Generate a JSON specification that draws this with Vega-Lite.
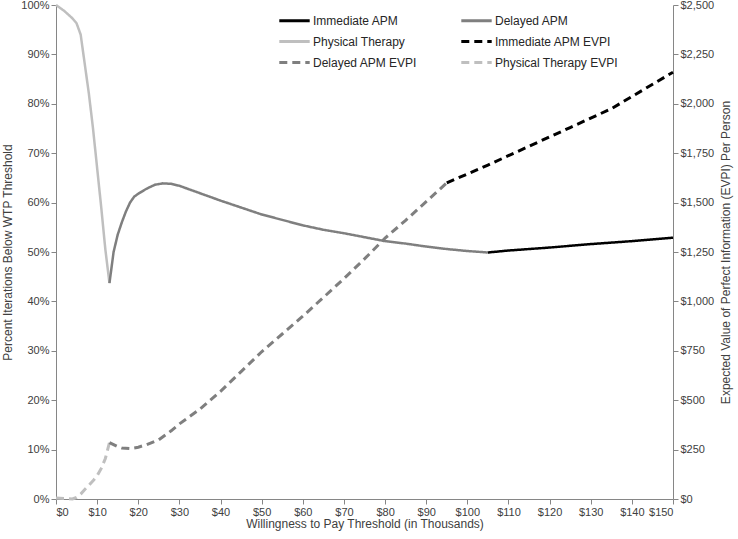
{
  "$schema": "https://vega.github.io/schema/vega-lite/v6.json",
  "width": 617,
  "height": 494,
  "autosize": "none",
  "padding": {"left": 56, "top": 5, "right": 65, "bottom": 40},
  "background": "white",
  "config": {
    "font": "Liberation Sans",
    "view": {"stroke": null},
    "axis": {
      "grid": false,
      "domainColor": "#868686",
      "tickColor": "#868686",
      "labelColor": "#404040",
      "titleColor": "#404040",
      "labelFontSize": 11,
      "titleFontSize": 12,
      "titleFontWeight": "normal",
      "labelFont": "Liberation Sans",
      "titleFont": "Liberation Sans",
      "tickSize": 5
    },
    "legend": {"labelFont": "Liberation Sans", "labelFontSize": 12, "labelColor": "#262626"}
  },
  "datasets": {
    "pct": [
      {"x": 0, "series": "Physical Therapy", "p": 1.0},
      {"x": 2, "series": "Physical Therapy", "p": 0.988},
      {"x": 4, "series": "Physical Therapy", "p": 0.973},
      {"x": 5, "series": "Physical Therapy", "p": 0.963},
      {"x": 6, "series": "Physical Therapy", "p": 0.94},
      {"x": 7, "series": "Physical Therapy", "p": 0.88},
      {"x": 8, "series": "Physical Therapy", "p": 0.82},
      {"x": 9, "series": "Physical Therapy", "p": 0.75},
      {"x": 10, "series": "Physical Therapy", "p": 0.67},
      {"x": 11, "series": "Physical Therapy", "p": 0.59},
      {"x": 12, "series": "Physical Therapy", "p": 0.505},
      {"x": 13, "series": "Physical Therapy", "p": 0.437},
      {"x": 13, "series": "Delayed APM", "p": 0.437},
      {"x": 14, "series": "Delayed APM", "p": 0.50},
      {"x": 15, "series": "Delayed APM", "p": 0.535},
      {"x": 16, "series": "Delayed APM", "p": 0.56},
      {"x": 17, "series": "Delayed APM", "p": 0.582},
      {"x": 18, "series": "Delayed APM", "p": 0.60},
      {"x": 19, "series": "Delayed APM", "p": 0.612},
      {"x": 20, "series": "Delayed APM", "p": 0.618},
      {"x": 22, "series": "Delayed APM", "p": 0.628},
      {"x": 24, "series": "Delayed APM", "p": 0.636},
      {"x": 26, "series": "Delayed APM", "p": 0.639},
      {"x": 28, "series": "Delayed APM", "p": 0.638},
      {"x": 30, "series": "Delayed APM", "p": 0.634},
      {"x": 35, "series": "Delayed APM", "p": 0.619},
      {"x": 40, "series": "Delayed APM", "p": 0.604},
      {"x": 45, "series": "Delayed APM", "p": 0.59},
      {"x": 50, "series": "Delayed APM", "p": 0.576},
      {"x": 55, "series": "Delayed APM", "p": 0.565},
      {"x": 60, "series": "Delayed APM", "p": 0.554},
      {"x": 65, "series": "Delayed APM", "p": 0.545},
      {"x": 70, "series": "Delayed APM", "p": 0.538},
      {"x": 75, "series": "Delayed APM", "p": 0.53},
      {"x": 80, "series": "Delayed APM", "p": 0.522},
      {"x": 85, "series": "Delayed APM", "p": 0.517},
      {"x": 90, "series": "Delayed APM", "p": 0.511},
      {"x": 95, "series": "Delayed APM", "p": 0.506},
      {"x": 100, "series": "Delayed APM", "p": 0.502},
      {"x": 105, "series": "Delayed APM", "p": 0.499},
      {"x": 105, "series": "Immediate APM", "p": 0.499},
      {"x": 110, "series": "Immediate APM", "p": 0.503},
      {"x": 120, "series": "Immediate APM", "p": 0.509},
      {"x": 130, "series": "Immediate APM", "p": 0.516},
      {"x": 140, "series": "Immediate APM", "p": 0.522},
      {"x": 150, "series": "Immediate APM", "p": 0.529}
    ],
    "evpi": [
      {"x": 0, "series": "Physical Therapy EVPI", "v": 5},
      {"x": 2, "series": "Physical Therapy EVPI", "v": 3},
      {"x": 4, "series": "Physical Therapy EVPI", "v": 0},
      {"x": 5, "series": "Physical Therapy EVPI", "v": 8},
      {"x": 6, "series": "Physical Therapy EVPI", "v": 25},
      {"x": 7, "series": "Physical Therapy EVPI", "v": 48},
      {"x": 8, "series": "Physical Therapy EVPI", "v": 70},
      {"x": 9, "series": "Physical Therapy EVPI", "v": 92},
      {"x": 10, "series": "Physical Therapy EVPI", "v": 118},
      {"x": 11, "series": "Physical Therapy EVPI", "v": 155},
      {"x": 12, "series": "Physical Therapy EVPI", "v": 205},
      {"x": 13, "series": "Physical Therapy EVPI", "v": 285},
      {"x": 13, "series": "Delayed APM EVPI", "v": 285},
      {"x": 14, "series": "Delayed APM EVPI", "v": 275},
      {"x": 15, "series": "Delayed APM EVPI", "v": 265},
      {"x": 16, "series": "Delayed APM EVPI", "v": 258},
      {"x": 18, "series": "Delayed APM EVPI", "v": 255},
      {"x": 20, "series": "Delayed APM EVPI", "v": 262},
      {"x": 22, "series": "Delayed APM EVPI", "v": 275},
      {"x": 25, "series": "Delayed APM EVPI", "v": 300},
      {"x": 28, "series": "Delayed APM EVPI", "v": 345},
      {"x": 30, "series": "Delayed APM EVPI", "v": 380},
      {"x": 35, "series": "Delayed APM EVPI", "v": 455},
      {"x": 40, "series": "Delayed APM EVPI", "v": 545},
      {"x": 45, "series": "Delayed APM EVPI", "v": 645},
      {"x": 50, "series": "Delayed APM EVPI", "v": 745},
      {"x": 55, "series": "Delayed APM EVPI", "v": 835},
      {"x": 60, "series": "Delayed APM EVPI", "v": 925},
      {"x": 65, "series": "Delayed APM EVPI", "v": 1020},
      {"x": 70, "series": "Delayed APM EVPI", "v": 1115},
      {"x": 75, "series": "Delayed APM EVPI", "v": 1215},
      {"x": 80, "series": "Delayed APM EVPI", "v": 1320},
      {"x": 85, "series": "Delayed APM EVPI", "v": 1410},
      {"x": 90, "series": "Delayed APM EVPI", "v": 1505},
      {"x": 95, "series": "Delayed APM EVPI", "v": 1600},
      {"x": 95, "series": "Immediate APM EVPI", "v": 1600},
      {"x": 105, "series": "Immediate APM EVPI", "v": 1690},
      {"x": 115, "series": "Immediate APM EVPI", "v": 1785},
      {"x": 125, "series": "Immediate APM EVPI", "v": 1880},
      {"x": 135, "series": "Immediate APM EVPI", "v": 1975},
      {"x": 150, "series": "Immediate APM EVPI", "v": 2160}
    ]
  },
  "encoding": {
    "x": {
      "field": "x",
      "type": "quantitative",
      "scale": {"domain": [0, 150], "nice": false},
      "axis": {
        "values": [0, 10, 20, 30, 40, 50, 60, 70, 80, 90, 100, 110, 120, 130, 140, 150],
        "labelExpr": "'$' + datum.value",
        "title": "Willingness to Pay Threshold (in Thousands)",
        "titlePadding": 1
      }
    },
    "color": {
      "field": "series",
      "type": "nominal",
      "scale": {
        "domain": ["Immediate APM", "Delayed APM", "Physical Therapy", "Immediate APM EVPI", "Delayed APM EVPI", "Physical Therapy EVPI"],
        "range": ["#000000", "#7f7f7f", "#bfbfbf", "#000000", "#7f7f7f", "#bfbfbf"]
      },
      "legend": {
        "title": null,
        "orient": "none",
        "direction": "horizontal",
        "legendX": 229,
        "legendY": 6,
        "columns": 2,
        "columnPadding": 37,
        "rowPadding": 5,
        "symbolType": "M-1.9,0H1.9",
        "symbolStrokeWidth": 3,
        "symbolSize": 256,
        "labelOffset": 9
      }
    },
    "strokeDash": {
      "field": "series",
      "type": "nominal",
      "scale": {
        "domain": ["Immediate APM", "Delayed APM", "Physical Therapy", "Immediate APM EVPI", "Delayed APM EVPI", "Physical Therapy EVPI"],
        "range": [[1, 0], [1, 0], [1, 0], [8, 5], [8, 5], [8, 5]]
      },
      "legend": {
        "title": null,
        "orient": "none",
        "direction": "horizontal",
        "legendX": 229,
        "legendY": 6,
        "columns": 2,
        "columnPadding": 37,
        "rowPadding": 5,
        "symbolType": "M-1.9,0H1.9",
        "symbolStrokeWidth": 3,
        "symbolSize": 256,
        "labelOffset": 9
      }
    }
  },
  "layer": [
    {
      "data": {"name": "pct"},
      "mark": {"type": "line", "strokeWidth": 2.5},
      "encoding": {
        "y": {
          "field": "p",
          "type": "quantitative",
          "scale": {"domain": [0, 1], "nice": false},
          "axis": {
            "format": ".0%",
            "values": [0, 0.1, 0.2, 0.3, 0.4, 0.5, 0.6, 0.7, 0.8, 0.9, 1],
            "title": "Percent Iterations Below WTP Threshold",
            "titlePadding": 6
          }
        }
      }
    },
    {
      "data": {"name": "evpi"},
      "mark": {"type": "line", "strokeWidth": 3},
      "encoding": {
        "y": {
          "field": "v",
          "type": "quantitative",
          "scale": {"domain": [0, 2500], "nice": false},
          "axis": {
            "orient": "right",
            "format": "$,.0f",
            "values": [0, 250, 500, 750, 1000, 1250, 1500, 1750, 2000, 2250, 2500],
            "title": "Expected Value of Perfect Information (EVPI) Per Person",
            "titleAngle": 270,
            "titleBaseline": "top",
            "titlePadding": 7
          }
        }
      }
    }
  ],
  "resolve": {"scale": {"y": "independent"}}
}
